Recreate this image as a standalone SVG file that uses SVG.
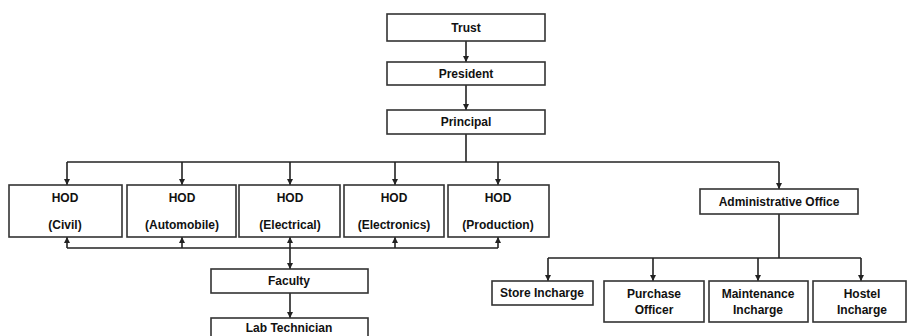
<svg xmlns="http://www.w3.org/2000/svg" width="907" height="336" viewBox="0 0 907 336">
<defs>
<marker id="ah" viewBox="0 0 10 10" refX="10" refY="5" markerWidth="6" markerHeight="6" orient="auto-start-reverse" markerUnits="userSpaceOnUse">
<path d="M0,0 L10,5 L0,10 z" fill="#222"/>
</marker>
<style>
.box{fill:#fff;stroke:#333;stroke-width:1.6}
.t{font-family:"Liberation Sans",Arial,sans-serif;font-weight:bold;font-size:12px;fill:#111;text-anchor:middle;dominant-baseline:central}
.c{fill:none;stroke:#222;stroke-width:1.6}
</style>
</defs>
<rect width="907" height="336" fill="#fff"/>
<g id="connectors">
<path class="c" d="M466,41 V62" marker-end="url(#ah)"/>
<path class="c" d="M466,85 V110" marker-end="url(#ah)"/>
<path class="c" d="M466,134 V162"/>
<path class="c" d="M67,162 H779"/>
<path class="c" d="M67,162 V185" marker-end="url(#ah)"/>
<path class="c" d="M182,162 V185" marker-end="url(#ah)"/>
<path class="c" d="M290,162 V185" marker-end="url(#ah)"/>
<path class="c" d="M395,162 V185" marker-end="url(#ah)"/>
<path class="c" d="M498,162 V185" marker-end="url(#ah)"/>
<path class="c" d="M779,162 V189" marker-end="url(#ah)"/>
<path class="c" d="M67,248 H498"/>
<path class="c" d="M67,248 V237" marker-end="url(#ah)"/>
<path class="c" d="M182,248 V237" marker-end="url(#ah)"/>
<path class="c" d="M395,248 V237" marker-end="url(#ah)"/>
<path class="c" d="M498,248 V237" marker-end="url(#ah)"/>
<path class="c" d="M290,237 V269" marker-start="url(#ah)" marker-end="url(#ah)"/>
<path class="c" d="M290,293 V318" marker-end="url(#ah)"/>
<path class="c" d="M779,214 V258"/>
<path class="c" d="M548,258 H861"/>
<path class="c" d="M548,258 V281" marker-end="url(#ah)"/>
<path class="c" d="M653,258 V281" marker-end="url(#ah)"/>
<path class="c" d="M758,258 V281" marker-end="url(#ah)"/>
<path class="c" d="M861,258 V281" marker-end="url(#ah)"/>
</g>
<g id="trust"><rect class="box" x="387" y="14" width="158" height="27"/><text class="t" x="466" y="28">Trust</text></g>
<g id="president"><rect class="box" x="387" y="62" width="158" height="23"/><text class="t" x="466" y="74">President</text></g>
<g id="principal"><rect class="box" x="387" y="110" width="158" height="24"/><text class="t" x="466" y="122">Principal</text></g>
<g id="hod-civil"><rect class="box" x="9" y="185" width="113" height="52"/><text class="t" x="65" y="198">HOD</text><text class="t" x="65" y="225">(Civil)</text></g>
<g id="hod-automobile"><rect class="box" x="127" y="185" width="109" height="52"/><text class="t" x="182" y="198">HOD</text><text class="t" x="182" y="225">(Automobile)</text></g>
<g id="hod-electrical"><rect class="box" x="239" y="185" width="101" height="52"/><text class="t" x="290" y="198">HOD</text><text class="t" x="290" y="225">(Electrical)</text></g>
<g id="hod-electronics"><rect class="box" x="344" y="185" width="100" height="52"/><text class="t" x="394" y="198">HOD</text><text class="t" x="394" y="225">(Electronics)</text></g>
<g id="hod-production"><rect class="box" x="448" y="185" width="101" height="52"/><text class="t" x="498" y="198">HOD</text><text class="t" x="498" y="225">(Production)</text></g>
<g id="admin"><rect class="box" x="700" y="189" width="158" height="25"/><text class="t" x="779" y="202">Administrative Office</text></g>
<g id="faculty"><rect class="box" x="211" y="269" width="157" height="24"/><text class="t" x="289" y="281">Faculty</text></g>
<g id="lab"><rect class="box" x="211" y="318" width="157" height="24"/><text class="t" x="289" y="328">Lab Technician</text></g>
<g id="store"><rect class="box" x="492" y="281" width="101" height="24"/><text class="t" x="542" y="293">Store Incharge</text></g>
<g id="purchase"><rect class="box" x="604" y="281" width="100" height="41"/><text class="t" x="654" y="294">Purchase</text><text class="t" x="654" y="310">Officer</text></g>
<g id="maintenance"><rect class="box" x="709" y="281" width="99" height="41"/><text class="t" x="758" y="294">Maintenance</text><text class="t" x="758" y="310">Incharge</text></g>
<g id="hostel"><rect class="box" x="813" y="281" width="93" height="41"/><text class="t" x="862" y="294">Hostel</text><text class="t" x="862" y="310">Incharge</text></g>
</svg>
